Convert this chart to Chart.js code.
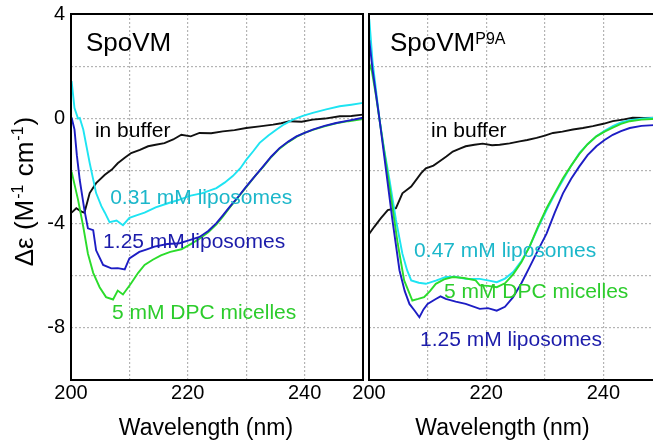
<!DOCTYPE html>
<html>
<head>
<meta charset="utf-8">
<script src="https://cdn.jsdelivr.net/npm/chart.js@4"></script>
<style>
  html, body { margin: 0; padding: 0; background: #fff; }
  body { width: 653px; height: 442px; overflow: hidden; position: relative; }
  canvas { position: absolute; top: 0; }
  #left { left: 0; }
  #right { left: 340px; }
</style>
</head>
<body>
<canvas id="left" width="366" height="442"></canvas>
<canvas id="right" width="325" height="442"></canvas>
<script>
// wavelength (nm) / delta epsilon pairs

// SpoVM panel
const spoBufferNm = [200.1, 200.9, 201.8, 202.3, 203.2, 204.3, 205.8, 207, 208, 209.2, 210.3, 211.8, 213.2, 214.5, 216, 217.5, 218.9, 220.5, 222, 224, 226, 228, 230, 232.3, 234.6, 236, 237.4, 239.5, 241.4, 243.5, 246, 248, 250];
const spoBufferDe = [-3.6, -3.43, -3.56, -3.6, -2.85, -2.47, -2.15, -1.95, -1.71, -1.5, -1.32, -1.2, -1.06, -1.0, -0.94, -0.8, -0.62, -0.68, -0.55, -0.56, -0.49, -0.44, -0.36, -0.3, -0.23, -0.18, -0.1, -0.12, -0.04, 0.0, 0.09, 0.1, 0.15];

const spoLipo031Nm = [200.1, 200.6, 201.2, 201.5, 202.1, 203.2, 204.3, 205.2, 205.8, 206.6, 207.8, 208.9, 210, 211.2, 212.6, 214.5, 216.6, 218.6, 220.5, 222.5, 224.9, 226.3, 227.7, 229, 230, 231.2, 232.3, 233.8, 235.2, 236.5, 238, 239.7, 241.4, 243.7, 246, 248, 250];
const spoLipo031De = [1.43, 0.4, 0.0, 0.02, -0.42, -1.7, -2.85, -3.35, -3.6, -3.96, -3.9, -4.08, -3.8, -3.7, -3.6, -3.4, -3.24, -3.1, -2.95, -2.85, -2.66, -2.45, -2.2, -1.9, -1.58, -1.25, -0.93, -0.65, -0.42, -0.22, -0.04, 0.1, 0.22, 0.35, 0.47, 0.53, 0.6];

const spoLipo125Nm = [200.1, 200.6, 201.0, 201.5, 202.3, 202.9, 203.8, 204.3, 205.5, 206.9, 208, 209.2, 210, 211.7, 213, 214.3, 216.5, 218.6, 220.3, 222, 223.5, 224.9, 226, 227.2, 228.6, 230, 231.5, 232.9, 234.3, 235.7, 237.2, 238.6, 240, 241.4, 243.4, 245.4, 247.5, 250];
const spoLipo125De = [0.04, -0.42, -1.4, -2.35, -3.5, -4.2, -4.27, -5.04, -5.6, -5.73, -5.72, -5.77, -5.35, -5.1, -5.0, -4.9, -4.8, -4.77, -4.65, -4.53, -4.3, -4.0, -3.7, -3.37, -3.0, -2.6, -2.2, -1.83, -1.45, -1.13, -0.88, -0.68, -0.55, -0.42, -0.28, -0.17, -0.08, 0.03];

const spoDpcNm = [200.1, 201.2, 202.1, 202.9, 203.8, 204.9, 206, 207.2, 208, 208.9, 210.3, 211.5, 212.6, 214, 215.4, 217, 218.9, 220.5, 222, 223.5, 224.9, 226, 227.2, 228.6, 230, 231.5, 232.9, 234.3, 235.7, 237.2, 238.6, 240, 241.4, 243.4, 245.4, 247.5, 250];
const spoDpcDe = [-2.03, -3.1, -4.14, -5.17, -5.9, -6.45, -6.83, -6.92, -6.58, -6.73, -6.3, -5.9, -5.6, -5.4, -5.23, -5.1, -5.0, -4.8, -4.6, -4.35, -4.05, -3.75, -3.4, -3.02, -2.62, -2.2, -1.85, -1.47, -1.15, -0.9, -0.7, -0.55, -0.43, -0.3, -0.18, -0.1, -0.02];

// SpoVM P9A panel
const p9aBufferNm = [200.05, 200.9, 202, 203.2, 204.6, 205.7, 207.2, 208.9, 209.7, 211, 212, 213.2, 214.3, 215.5, 216.5, 218, 219.4, 221, 222.3, 224, 225.7, 227, 228.6, 230, 231.4, 233, 234.8, 236.5, 238.2, 240, 241.6, 243.3, 245, 247, 250];
const p9aBufferDe = [-4.4, -4.14, -3.82, -3.5, -3.43, -2.86, -2.6, -2.09, -1.9, -1.8, -1.64, -1.45, -1.26, -1.15, -1.06, -1.0, -0.96, -1.02, -1.0, -0.95, -0.87, -0.82, -0.74, -0.65, -0.55, -0.5, -0.42, -0.36, -0.29, -0.2, -0.1, -0.04, 0.03, 0.02, 0.03];

const p9aLipo047Nm = [200.05, 200.6, 201.8, 202.6, 203.5, 204.6, 205.7, 206.5, 207.2, 208.5, 209.7, 211.4, 213.1, 214.8, 216.5, 218.9, 220.5, 221.8, 223.2, 224.6, 226, 227.4, 228.8, 230.3, 231.7, 233.1, 234.5, 235.9, 237.3, 238.8, 240.2, 241.6, 243, 244.5, 246.5, 250];
const p9aLipo047De = [3.8, 2.2, -0.04, -1.2, -2.35, -3.88, -5.17, -5.8, -6.19, -6.28, -6.32, -6.2, -6.06, -6.05, -6.13, -6.13, -6.2, -6.26, -6.12, -5.87, -5.45, -4.9, -4.2, -3.5, -2.9, -2.35, -1.8, -1.32, -0.98, -0.68, -0.47, -0.29, -0.15, -0.06, 0.0, 0.05];

const p9aDpcNm = [200.05, 200.5, 201.2, 202.3, 203.5, 204.9, 206, 207.4, 208.4, 209.4, 210.4, 211.4, 212.8, 214.3, 216.2, 218.2, 218.9, 220.3, 221.8, 223.2, 224.6, 226, 227.4, 228.8, 230.3, 231.7, 233.1, 234.5, 235.9, 237.3, 238.8, 240.2, 241.6, 243, 244.5, 246.5, 250];
const p9aDpcDe = [2.1, 1.8, 0.86, -0.81, -2.6, -4.78, -6.19, -6.96, -6.9, -6.83, -6.6, -6.32, -6.15, -6.06, -6.1, -6.19, -6.38, -6.4, -6.45, -6.3, -5.96, -5.5, -4.9, -4.15, -3.43, -2.85, -2.28, -1.8, -1.35, -0.98, -0.68, -0.5, -0.35, -0.2, -0.1, -0.04, 0.0];

const p9aLipo125Nm = [200.05, 200.6, 201.8, 202.9, 204, 205.2, 206.1, 206.9, 207.8, 208.6, 209.3, 210, 211.4, 212.2, 213.1, 214.8, 216.5, 218.9, 220.3, 221.8, 223.2, 224.6, 226, 227.4, 228.8, 230.3, 231.7, 233.1, 234.5, 235.9, 237.3, 238.8, 240.2, 241.6, 243, 244.5, 246.5, 250];
const p9aLipo125De = [3.0, 1.88, -0.04, -1.96, -3.88, -5.8, -6.6, -7.09, -7.35, -7.6, -7.3, -7.09, -6.9, -6.8, -6.9, -7.0, -7.09, -7.28, -7.25, -7.35, -7.2, -6.83, -6.3, -5.68, -5.05, -4.4, -3.6, -2.86, -2.3, -1.83, -1.4, -1.06, -0.82, -0.62, -0.48, -0.36, -0.28, -0.23];

// axis ranges and tick labels
const xMin = 200, xMax = 250, xGridStep = 10;
const xTickLabels = [200, 220, 240];
const yMin = -10, yMax = 4, yGridStep = 2;
const yTickLabels = [4, 0, -4, -8];

const FONT = "'Liberation Sans', Arial, Helvetica, sans-serif";
Chart.defaults.font.family = FONT;
Chart.defaults.color = '#000';

const colBlack = '#111111';
const colCyan = '#1ee4f2';
const colBlue = '#1d1dc4';
const colGreen = '#2bdc2b';

function pairs(xs, ys) {
    return xs.map((v, i) => ({ x: v, y: ys[i] }));
}

function line(xs, ys, color) {
    return {
        data: pairs(xs, ys),
        borderColor: color,
        backgroundColor: color,
        borderWidth: 1.9,
        pointRadius: 0,
        tension: 0,
        fill: false
    };
}

// frame, panel title, curve labels and axis titles
const textPlugin = {
    id: 'panelText',
    afterDraw(chart, args, o) {
        const { ctx, chartArea: a, scales } = chart;
        ctx.save();
        ctx.strokeStyle = '#000';
        ctx.lineWidth = 2;
        ctx.strokeRect(a.left, a.top, a.right - a.left, a.bottom - a.top);

        ctx.fillStyle = '#000';
        ctx.textBaseline = 'alphabetic';
        ctx.textAlign = 'left';
        ctx.font = '26px ' + FONT;
        const tx = a.left + o.titleDx;
        ctx.fillText(o.title, tx, a.top + 37);
        if (o.sup) {
            const w = ctx.measureText(o.title).width;
            ctx.font = '16px ' + FONT;
            ctx.fillText(o.sup, tx + w, a.top + 30);
        }

        ctx.font = '21px ' + FONT;
        ctx.textBaseline = 'middle';
        o.labels.forEach(l => {
            ctx.fillStyle = l.color;
            ctx.fillText(l.text, scales.x.getPixelForValue(l.nm), scales.y.getPixelForValue(l.de));
        });

        ctx.fillStyle = '#000';
        ctx.textBaseline = 'alphabetic';
        ctx.textAlign = 'center';
        ctx.font = '23px ' + FONT;
        ctx.fillText('Wavelength (nm)', (a.left + a.right) / 2 + o.xTitleDx, 435);

        if (o.yTitle) {
            const parts = [['Δε (M', 26, 0], ['-1', 16, -10], [' cm', 26, 0], ['-1', 16, -10], [')', 26, 0]];
            let total = 0;
            const ws = parts.map(p => {
                ctx.font = p[1] + 'px ' + FONT;
                const w = ctx.measureText(p[0]).width + 1;
                total += w;
                return w;
            });
            ctx.translate(33, 191);
            ctx.rotate(-Math.PI / 2);
            ctx.textAlign = 'left';
            let px = -total / 2;
            parts.forEach((p, i) => {
                ctx.font = p[1] + 'px ' + FONT;
                ctx.fillText(p[0], px, p[2]);
                px += ws[i];
            });
        }
        ctx.restore();
    }
};

function makePanel(id, datasets, yAxisWidth, showY, panelOpts) {
    const gridStyle = { color: '#b4b4b4', lineWidth: 1.2, drawTicks: false };
    new Chart(document.getElementById(id), {
        type: 'line',
        data: { datasets },
        options: {
            responsive: false,
            animation: false,
            layout: { padding: { top: 14, right: 3, bottom: 0, left: 0 } },
            plugins: {
                legend: { display: false },
                tooltip: { enabled: false },
                panelText: panelOpts
            },
            scales: {
                x: {
                    type: 'linear',
                    min: xMin,
                    max: xMax,
                    grid: gridStyle,
                    border: { display: false, dash: [2, 2] },
                    ticks: {
                        stepSize: xGridStep,
                        autoSkip: false,
                        maxRotation: 0,
                        padding: 1,
                        font: { size: 20 },
                        callback: v => xTickLabels.includes(v) ? String(v) : ''
                    },
                    afterFit: s => { s.height = 62; }
                },
                y: {
                    min: yMin,
                    max: yMax,
                    grid: gridStyle,
                    border: { display: false, dash: [2, 2] },
                    ticks: {
                        display: showY,
                        stepSize: yGridStep,
                        padding: 6,
                        font: { size: 20, lineHeight: 0.8 },
                        callback: v => yTickLabels.includes(v) ? String(v) : ''
                    },
                    afterFit: s => { s.width = yAxisWidth; }
                }
            }
        },
        plugins: [textPlugin]
    });
}

makePanel('left', [
    line(spoLipo125Nm, spoLipo125De, colBlue),
    line(spoDpcNm, spoDpcDe, colGreen),
    line(spoLipo031Nm, spoLipo031De, colCyan),
    line(spoBufferNm, spoBufferDe, colBlack)
], 71, true, {
    title: 'SpoVM', sup: '', titleDx: 15, xTitleDx: -11, yTitle: true,
    labels: [
        { text: 'in buffer', nm: 204.1, de: -0.5, color: '#000' },
        { text: '0.31 mM liposomes', nm: 206.7, de: -3.04, color: '#1cb7ca' },
        { text: '1.25 mM liposomes', nm: 205.5, de: -4.73, color: '#1c1caa' },
        { text: '5 mM DPC micelles', nm: 207.0, de: -7.46, color: '#2ccc2c' }
    ]
});

makePanel('right', [
    line(p9aLipo125Nm, p9aLipo125De, colBlue),
    line(p9aDpcNm, p9aDpcDe, colGreen),
    line(p9aLipo047Nm, p9aLipo047De, colCyan),
    line(p9aBufferNm, p9aBufferDe, colBlack)
], 29, false, {
    title: 'SpoVM', sup: 'P9A', titleDx: 21, xTitleDx: -13, yTitle: false,
    labels: [
        { text: 'in buffer', nm: 210.6, de: -0.5, color: '#000' },
        { text: '0.47 mM liposomes', nm: 207.7, de: -5.08, color: '#1cb7ca' },
        { text: '5 mM DPC micelles', nm: 212.8, de: -6.65, color: '#2ccc2c' },
        { text: '1.25 mM liposomes', nm: 208.7, de: -8.46, color: '#1c1caa' }
    ]
});
</script>
</body>
</html>
